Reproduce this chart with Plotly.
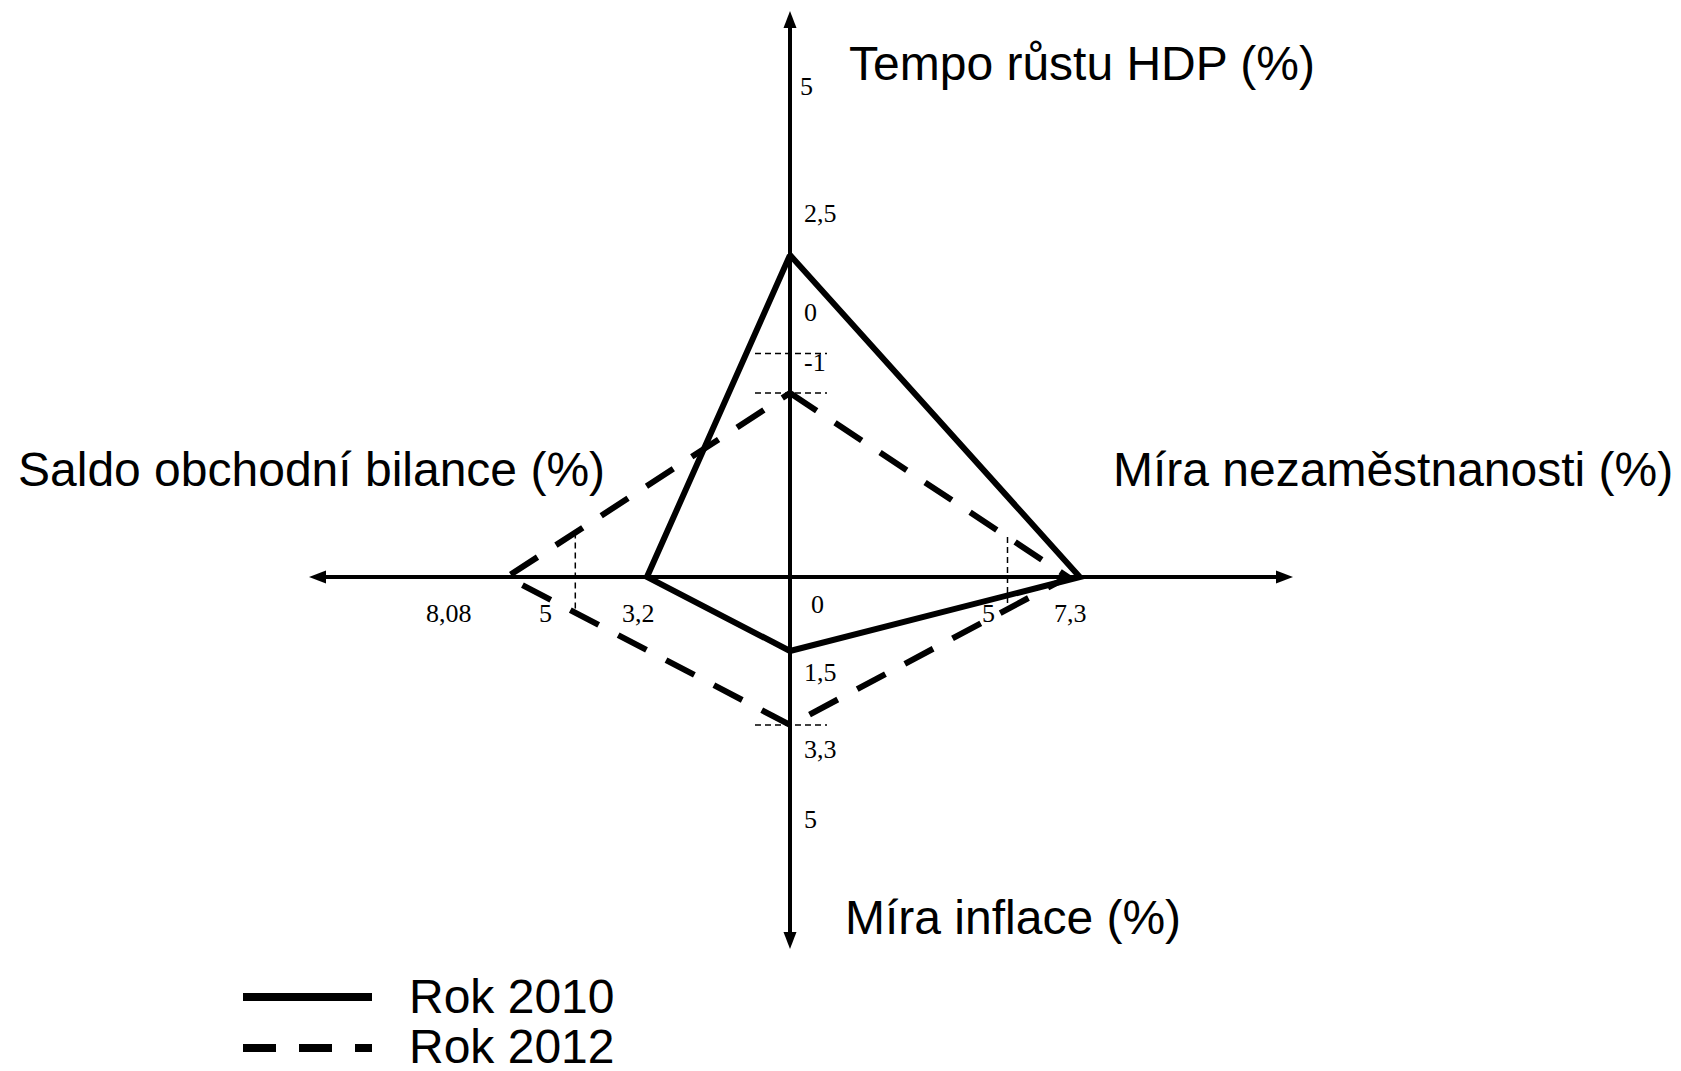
import numpy as np
import plotly.graph_objects as go

# ---------------- data ----------------
axis_titles = ["Tempo růstu HDP (%)", "Míra nezaměstnanosti (%)",
               "Míra inflace (%)", "Saldo obchodní bilance (%)"]
years = ["Rok 2010", "Rok 2012"]
gdp_growth = [2.5, -1.0]
unemployment = [7.3, 7.0]
inflation = [1.5, 3.3]
trade_balance = [3.2, 8.08]

gdp_ticks = [5, 2.5, 0, -1]
gdp_tick_text = ["5", "2,5", "0", "-1"]
unemp_ticks = [5, 7.3]
unemp_tick_text = ["5", "7,3"]
infl_ticks = [1.5, 3.3, 5]
infl_tick_text = ["1,5", "3,3", "5"]
trade_ticks = [3.2, 5, 8.08]
trade_tick_text = ["3,2", "5", "8,08"]

# ---------------- scales (distance from the centre, in px) ----------------
SCALE = {"gdp": (223.4, 39.4), "unemp": (0.0, 39.7),
         "infl": (12.3, 41.1), "trade": (51.2, 28.7)}


def sc(axis, v):
    a, b = SCALE[axis]
    return a + b * np.asarray(v, dtype=float)


def polygon(i):
    top = (0.0, float(sc("gdp", gdp_growth[i])))
    right = (float(sc("unemp", unemployment[i])), 0.0)
    bottom = (0.0, -float(sc("infl", inflation[i])))
    left = (-float(sc("trade", trade_balance[i])), 0.0)
    pts = [top, right, bottom, left, top]
    return [p[0] for p in pts], [p[1] for p in pts]


# ---------------- layout constants ----------------
W, H = 1673, 1055
CX, CY = 790 - 8, 577 - 8          # centre inside the plot div
XR = [-CX, W - CX]
YR = [-(H - CY), CY]
AX_TOP, AX_BOTTOM, AX_LEFT, AX_RIGHT = 566, -372, -481, 503
HEAD_L, HEAD_W = 17, 6.5
POLY_W = 6
DASH = "32px,22px"
SANS = "Liberation Sans, Arial, sans-serif"
SERIF = "Liberation Serif, Times New Roman, serif"
GUIDE_SHIFT = {"unemp": 19, "trade": -20}   # hand-drawn guide offset (px)

fig = go.Figure()
shapes = []
# axes
shapes.append(dict(type="line", x0=0, x1=0, y0=AX_BOTTOM + HEAD_L, y1=AX_TOP - HEAD_L,
                   line=dict(color="black", width=4), layer="below"))
shapes.append(dict(type="line", y0=0, y1=0, x0=AX_LEFT + HEAD_L, x1=AX_RIGHT - HEAD_L,
                   line=dict(color="black", width=4), layer="below"))
# arrowheads
heads = [
    f"M 0 {AX_TOP} L {-HEAD_W} {AX_TOP-HEAD_L} L {HEAD_W} {AX_TOP-HEAD_L} Z",
    f"M 0 {AX_BOTTOM} L {-HEAD_W} {AX_BOTTOM+HEAD_L} L {HEAD_W} {AX_BOTTOM+HEAD_L} Z",
    f"M {AX_LEFT} 0 L {AX_LEFT+HEAD_L} {-HEAD_W} L {AX_LEFT+HEAD_L} {HEAD_W} Z",
    f"M {AX_RIGHT} 0 L {AX_RIGHT-HEAD_L} {-HEAD_W} L {AX_RIGHT-HEAD_L} {HEAD_W} Z",
]
for p in heads:
    shapes.append(dict(type="path", path=p, fillcolor="black", line=dict(width=0)))

# thin dashed guide lines
guide = dict(color="black", width=1.5, dash="6px,4px")
for v in [0, -1]:
    y = float(sc("gdp", v))
    shapes.append(dict(type="line", x0=-35, x1=37, y0=y, y1=y, line=guide, layer="below"))
y = -float(sc("infl", inflation[1]))
shapes.append(dict(type="line", x0=-35, x1=37, y0=y, y1=y, line=guide, layer="below"))

# vertical guides near value 5 on both horizontal half-axes, between 2012 edges
px12, py12 = polygon(1)
top12, right12, bottom12, left12 = py12[0], px12[1], py12[2], px12[3]
xg = float(sc("unemp", 5)) + GUIDE_SHIFT["unemp"]
shapes.append(dict(type="line", x0=xg, x1=xg,
                   y0=top12 * (1 - xg / right12), y1=bottom12 * (1 - xg / right12),
                   line=guide, layer="below"))
xg = -float(sc("trade", 5)) + GUIDE_SHIFT["trade"]
shapes.append(dict(type="line", x0=xg, x1=xg,
                   y0=top12 * (1 - xg / left12), y1=bottom12 * (1 - xg / left12),
                   line=guide, layer="below"))

# polygons
for i, name in enumerate(years):
    xs, ys = polygon(i)
    fig.add_trace(go.Scatter(x=xs, y=ys, mode="lines", name=name, showlegend=False,
                             line=dict(color="black", width=POLY_W,
                                       dash="solid" if i == 0 else DASH),
                             hoverinfo="skip"))

# legend (drawn manually)
LEG_X0, LEG_X1, LEG_TX = -547, -418, -383
LEG_Y = [-420, -471]
LEG_TY = [-419, -469]
for i, name in enumerate(years):
    fig.add_trace(go.Scatter(x=[LEG_X0, LEG_X1], y=[LEG_Y[i], LEG_Y[i]], mode="lines",
                             showlegend=False, hoverinfo="skip",
                             line=dict(color="black", width=8,
                                       dash="solid" if i == 0 else "33px,23px")))

ann = []
# axis titles
title_pos = [(57, 514), (321, 108), (53, -340), (-774, 108)]
for t, (x, y) in zip(axis_titles, title_pos):
    ann.append(dict(x=x, y=y, text=t, showarrow=False, xanchor="left", yanchor="middle",
                    font=dict(family=SANS, size=48, color="black")))
for i, name in enumerate(years):
    ann.append(dict(x=LEG_TX, y=LEG_TY[i], text=name, showarrow=False, xanchor="left",
                    yanchor="middle", font=dict(family=SANS, size=48, color="black")))

tick_font = dict(family=SERIF, size=26, color="black")
gdp_shift = [70, 42, 41, 31]
gdp_xshift = [8, 12, 12, 12]
for v, t, s, xs_ in zip(gdp_ticks, gdp_tick_text, gdp_shift, gdp_xshift):
    ann.append(dict(x=0, y=float(sc("gdp", v)), text=t, showarrow=False, xanchor="left",
                    yanchor="middle", xshift=xs_, yshift=s, font=tick_font))
infl_shift = [-22, -25, -25]
for v, t, s in zip(infl_ticks, infl_tick_text, infl_shift):
    ann.append(dict(x=0, y=-float(sc("infl", v)), text=t, showarrow=False, xanchor="left",
                    yanchor="middle", xshift=12, yshift=s, font=tick_font))
unemp_shift = [0, -9]
for v, t, s in zip(unemp_ticks, unemp_tick_text, unemp_shift):
    ann.append(dict(x=float(sc("unemp", v)), y=0, text=t, showarrow=False, xanchor="center",
                    yanchor="middle", xshift=s, yshift=-36, font=tick_font))
trade_shift = [-8, -50, -58]
for v, t, s in zip(trade_ticks, trade_tick_text, trade_shift):
    ann.append(dict(x=-float(sc("trade", v)), y=0, text=t, showarrow=False, xanchor="center",
                    yanchor="middle", xshift=s, yshift=-36, font=tick_font))
ann.append(dict(x=0, y=0, text="0", showarrow=False, xanchor="center", yanchor="middle",
                xshift=27, yshift=-27, font=tick_font))

fig.update_layout(
    width=W, height=H, autosize=False,
    margin=dict(l=0, r=0, t=0, b=0),
    paper_bgcolor="white", plot_bgcolor="white",
    xaxis=dict(range=XR, visible=False, fixedrange=True),
    yaxis=dict(range=YR, visible=False, fixedrange=True),
    shapes=shapes, annotations=ann, showlegend=False,
)
fig.write_html("out.html", config={"displayModeBar": False})
